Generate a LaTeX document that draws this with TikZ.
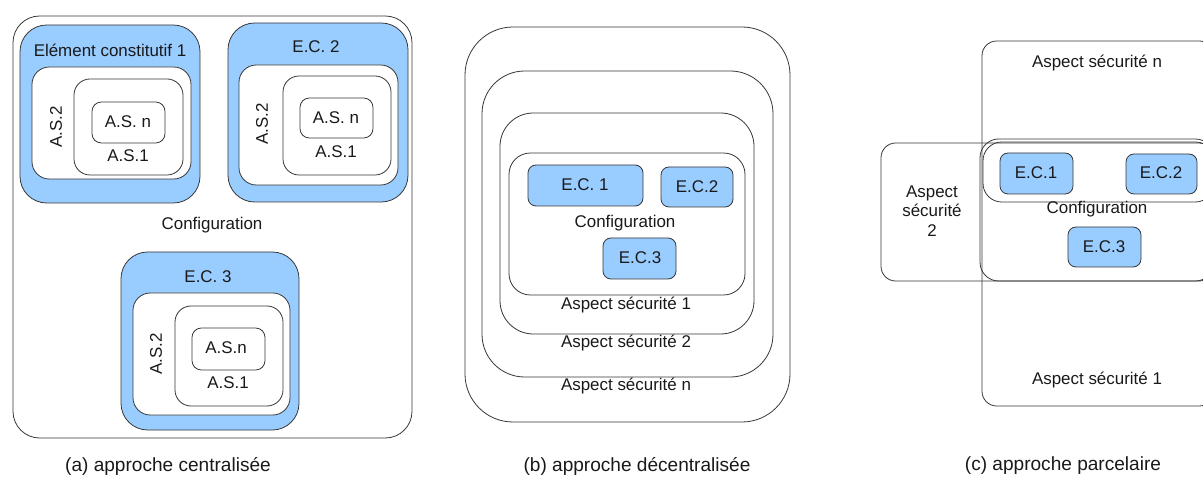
\documentclass[tikz,border=0pt]{standalone}
\usepackage{fontspec}
\setmainfont{Liberation Sans}
\usetikzlibrary{fit}
\definecolor{ecBlue}{RGB}{153,204,255}
\definecolor{lineGray}{RGB}{55,55,55}
\tikzstyle{asBox} = [rectangle, draw=lineGray, line width=.6pt, inner sep=0pt, fill=white]
\tikzstyle{ecBox} = [asBox, fill=ecBlue]
\tikzstyle{openBox} = [asBox, fill=none]
\tikzstyle{myLabel} = [inner sep=0pt, align=center, text=black!90, font=\fontsize{12.7}{14.5}\selectfont]
\tikzstyle{capLabel} = [myLabel, font=\fontsize{14.3}{17}\selectfont]

\begin{document}
\begin{tikzpicture}[x=0.75pt, y=-0.75pt]
	\useasboundingbox (0,0) rectangle (1203,477);

	% (a) approche centralisee
	\node[asBox, rounded corners=20pt, fit={(13,16) (412,438)}](confA){};
	\node[myLabel] (confAtxt) at (212,225) {Configuration};

	\node[ecBox, rounded corners=20pt, fit={(20,25) (200,203)}](ec1A){};
	\node[asBox, rounded corners=13pt, fit={(32,67) (191,179)}](ec1Aas2){};
	\node[asBox, rounded corners=12pt, fit={(74,79) (183,175)}](ec1Aas1){};
	\node[asBox, rounded corners=7pt, fit={(92,102) (165,143)}](ec1Aasn){};
	\node[myLabel] (ec1Atxt) at (110,50) {Elément constitutif 1};
	\node[myLabel, rotate=90] (ec1Aas2txt) at (56,127) {A.S.2};
	\node[myLabel] (ec1Aas1txt) at (128,156) {A.S.1};
	\node[myLabel] (ec1Aasntxt) at (128,122) {A.S. n};

	\node[ecBox, rounded corners=20pt, fit={(228,23) (408,202)}](ec2A){};
	\node[asBox, rounded corners=13pt, fit={(239,65) (398,185)}](ec2Aas2){};
	\node[asBox, rounded corners=12pt, fit={(283,76) (391,175)}](ec2Aas1){};
	\node[asBox, rounded corners=7pt, fit={(300,98) (373,138)}](ec2Aasn){};
	\node[myLabel] (ec2Atxt) at (316,47) {E.C. 2};
	\node[myLabel, rotate=90] (ec2Aas2txt) at (262,124) {A.S.2};
	\node[myLabel] (ec2Aas1txt) at (336,152) {A.S.1};
	\node[myLabel] (ec2Aasntxt) at (336,118) {A.S. n};

	\node[ecBox, rounded corners=20pt, fit={(121,252) (299,430)}](ec3A){};
	\node[asBox, rounded corners=13pt, fit={(133,293) (290,415)}](ec3Aas2){};
	\node[asBox, rounded corners=12pt, fit={(175,306) (283,406)}](ec3Aas1){};
	\node[asBox, rounded corners=7pt, fit={(192,328) (265,370)}](ec3Aasn){};
	\node[myLabel] (ec3Atxt) at (208,277) {E.C. 3};
	\node[myLabel, rotate=90] (ec3Aas2txt) at (156,354) {A.S.2};
	\node[myLabel] (ec3Aas1txt) at (228,383) {A.S.1};
	\node[myLabel] (ec3Aasntxt) at (226,348) {A.S.n};

	\node[capLabel] (capA) at (168,466) {(a) approche centralisée};

	% (b) approche decentralisee
	\node[asBox, rounded corners=36pt, fit={(465,27) (790,422)}](asnB){};
	\node[asBox, rounded corners=32pt, fit={(482,71) (773,377)}](as2B){};
	\node[asBox, rounded corners=25pt, fit={(500,113) (754,334)}](as1B){};
	\node[asBox, rounded corners=16pt, fit={(509,153) (745,295)}](confB){};
	\node[ecBox, rounded corners=6pt, fit={(528,165) (643,206)}](ec1B){};
	\node[ecBox, rounded corners=6pt, fit={(661,167) (733,207)}](ec2B){};
	\node[ecBox, rounded corners=6pt, fit={(603,238) (676,279)}](ec3B){};
	\node[myLabel] (ec1Btxt) at (585,185) {E.C. 1};
	\node[myLabel] (ec2Btxt) at (697,187) {E.C.2};
	\node[myLabel] (confBtxt) at (625,223) {Configuration};
	\node[myLabel] (ec3Btxt) at (640,258) {E.C.3};
	\node[myLabel] (as1Btxt) at (626,305) {Aspect sécurité 1};
	\node[myLabel] (as2Btxt) at (626,343) {Aspect sécurité 2};
	\node[myLabel] (asnBtxt) at (626,386) {Aspect sécurité n};

	\node[capLabel] (capB) at (637,466) {(b) approche décentralisée};

	% (c) approche parcelaire
	\node[openBox, rounded corners=11pt, fit={(982,41) (1214,406)}](asnC){};
	\node[openBox, rounded corners=11pt, fit={(881,143) (1214,281)}](as2C){};
	\node[openBox, rounded corners=14pt, fit={(980,139) (1214,281)}](confC){};
	\node[openBox, rounded corners=14pt, fit={(983,142) (1214,202)}](rowC){};
	\node[ecBox, rounded corners=6pt, fit={(1000,153) (1073,194)}](ec1C){};
	\node[ecBox, rounded corners=6pt, fit={(1126,154) (1197,194)}](ec2C){};
	\node[ecBox, rounded corners=6pt, fit={(1068,227) (1141,267)}](ec3C){};
	\node[myLabel] (ec1Ctxt) at (1036,173) {E.C.1};
	\node[myLabel] (ec2Ctxt) at (1161,173) {E.C.2};
	\node[myLabel] (ec3Ctxt) at (1104,247) {E.C.3};
	\node[myLabel] (confCtxt) at (1097,209) {Configuration};
	\node[myLabel] (asnCtxt) at (1097,63) {Aspect sécurité n};
	\node[myLabel] (as1Ctxt) at (1097,380) {Aspect sécurité 1};
	\node[myLabel] (as2Ctxt) at (932,211) {Aspect\\sécurité\\2};

	\node[capLabel] (capC) at (1063,466) {(c) approche parcelaire};
\end{tikzpicture}
\end{document}
